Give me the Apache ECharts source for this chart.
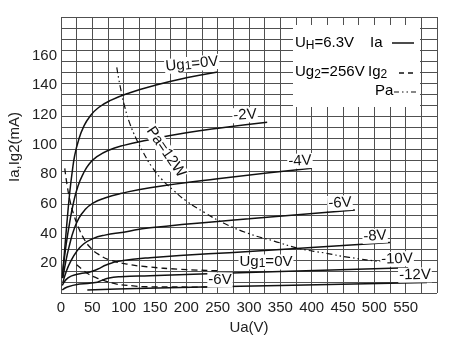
<!DOCTYPE html>
<html><head><meta charset="utf-8">
<script src="https://cdn.jsdelivr.net/npm/echarts@6/dist/echarts.min.js"></script>
<style>html,body{margin:0;padding:0;background:#fff}#c{width:450px;height:356px}</style>
</head><body><div id="c"></div>
<script>
const xTickLabels = [0,50,100,150,200,250,300,350,400,450,500,550];
const yTickLabels = [20,40,60,80,100,120,140,160];

const iaUg0   = [[2,10],[6,30],[10,50],[14,68],[18,82],[22,93],[28,103],[36,112],[46,119],[60,125],[80,130],[110,135],[150,140],[200,145],[250,149]];
const iaUgM2  = [[3,15],[8,32],[14,48],[20,61],[27,72],[35,80],[45,87],[58,92],[75,96],[100,99.5],[137,103],[200,108],[260,111.5],[329,115]];
const iaUgM4  = [[3,10],[8,22],[14,33],[20,42],[28,50],[38,56],[51,60.5],[70,64],[95,67],[142,71],[250,77],[400,84]];
const iaUgM6  = [[3,7],[8,14],[15,21],[25,28],[36,33],[50,36.5],[70,39],[100,41],[142,44],[300,50],[469,56]];
const iaUgM8  = [[2,5],[8,9],[17,11.5],[30,13],[45,14],[58,16],[73,19],[94,21.5],[142,23.8],[300,28],[525,34]];
const iaUgM10 = [[2,2],[10,4],[30,6],[55,7],[65,8.5],[75,10],[95,11],[142,11.7],[350,14.5],[554,17]];
const iaUgM12 = [[42,2],[137,3.2],[350,5],[584,7]];
const ig2Ug0  = [[6,84],[10,72],[15,61],[21,52],[28,44],[36,37],[46,31],[60,26],[80,22],[105,19.5],[137,17.7],[190,16],[249,15]];
const ig2UgM6 = [[25,19],[35,15.5],[45,12.5],[55,10.5],[68,8.5],[89,6],[115,4.8],[137,4.2],[233,4]];
const paCurve = [[89,152],[95,138],[102,125],[110,114],[120,104],[131,95],[145,85],[160,77],[180,69],[200,62],[230,54],[260,47],[300,40],[340,35],[380,30],[420,27],[460,24],[514,21],[540,20]];

const FONT = 'Liberation Sans, Arial, Helvetica, sans-serif';
const INK = '#111';
const GRIDC = '#505050';

function lineSeries(name, data, type, width) {
  return {
    name: name, type: 'line', data: data, showSymbol: false, symbol: 'none',
    smooth: 0.5, z: 3,
    lineStyle: { color: INK, width: width || 1.5, type: type || 'solid' },
    animation: false
  };
}

const rich = {
  n: { fontSize: 15, lineHeight: 18, fontFamily: FONT, color: INK },
  s: { fontSize: 12, lineHeight: 12, verticalAlign: 'bottom', fontFamily: FONT, color: INK }
};
const richL = {
  n: { fontSize: 15, lineHeight: 15, fontFamily: FONT, color: INK },
  s: { fontSize: 12, lineHeight: 11, verticalAlign: 'bottom', fontFamily: FONT, color: INK }
};

function label(text, x, y, rot) {
  return {
    type: 'text', x: x, y: y, rotation: rot || 0, z: 100,
    style: { text: text, rich: richL, align: 'center', verticalAlign: 'middle',
             backgroundColor: '#fff', padding: [0, 1, 0, 1], font: '15px ' + FONT, fill: INK }
  };
}

const chart = echarts.init(document.getElementById('c'), null, { renderer: 'canvas' });
chart.setOption({
  backgroundColor: '#fff',
  animation: false,
  grid: { left: 61, right: 13, top: 17, bottom: 63 },
  xAxis: {
    type: 'value', min: 0, max: 600, interval: 25,
    axisLine: { show: false }, axisTick: { show: false },
    splitLine: { show: true, lineStyle: { color: GRIDC, width: 1 } },
    axisLabel: { formatter: v => xTickLabels.indexOf(v) >= 0 ? String(v) : '', fontSize: 15, color: '#222', fontFamily: FONT, margin: 7 },
    name: 'Ua(V)', nameLocation: 'middle', nameGap: 27,
    nameTextStyle: { fontSize: 15, color: '#222', fontFamily: FONT }
  },
  yAxis: [
    {
      type: 'value', min: 0, max: 186, interval: 20,
      axisLine: { show: false }, axisTick: { show: false }, splitLine: { show: false },
      axisLabel: { formatter: v => yTickLabels.indexOf(v) >= 0 ? String(v) : '', fontSize: 15, color: '#222', fontFamily: FONT, margin: 4 }
    },
    {
      type: 'value', min: 0, max: 25, interval: 1, position: 'right',
      axisLine: { show: false }, axisTick: { show: false }, axisLabel: { show: false },
      splitLine: { show: true, lineStyle: { color: GRIDC, width: 1 } }
    }
  ],
  series: [
    lineSeries('Ia 0V', iaUg0),
    lineSeries('Ia -2V', iaUgM2),
    lineSeries('Ia -4V', iaUgM4),
    lineSeries('Ia -6V', iaUgM6),
    lineSeries('Ia -8V', iaUgM8),
    lineSeries('Ia -10V', iaUgM10),
    lineSeries('Ia -12V', iaUgM12),
    lineSeries('Ig2 0V', ig2Ug0, [6, 4], 1.3),
    lineSeries('Ig2 -6V', ig2UgM6, [6, 4], 1.3),
    lineSeries('Pa 12W', paCurve, [6, 3, 1.5, 3, 1.5, 3], 1.2)
  ],
  graphic: [
    { type: 'rect', z: 90, shape: { x: 293, y: 25, width: 127, height: 82 }, style: { fill: '#fff' } },
    { type: 'text', z: 100, x: 295, y: 43, style: { text: '{n|U}{s|H}{n|=6.3V}', rich: rich, align: 'left', verticalAlign: 'middle' } },
    { type: 'text', z: 100, x: 370, y: 43, style: { text: '{n|Ia}', rich: rich, align: 'left', verticalAlign: 'middle' } },
    { type: 'line', z: 100, shape: { x1: 392, y1: 43, x2: 414, y2: 43 }, style: { stroke: INK, lineWidth: 1.5 } },
    { type: 'text', z: 100, x: 295, y: 72, style: { text: '{n|Ug}{s|2}{n|=256V}', rich: rich, align: 'left', verticalAlign: 'middle' } },
    { type: 'text', z: 100, x: 368, y: 72, style: { text: '{n|Ig}{s|2}', rich: rich, align: 'left', verticalAlign: 'middle' } },
    { type: 'line', z: 100, shape: { x1: 399, y1: 73, x2: 413, y2: 73 }, style: { stroke: INK, lineWidth: 1.3, lineDash: [5, 4] } },
    { type: 'text', z: 100, x: 375, y: 91, style: { text: '{n|Pa}', rich: rich, align: 'left', verticalAlign: 'middle' } },
    { type: 'line', z: 100, shape: { x1: 394, y1: 92, x2: 418, y2: 92 }, style: { stroke: INK, lineWidth: 1.2, lineDash: [5, 3, 1.5, 3, 1.5, 3] } },
    { type: 'text', z: 100, x: 15, y: 147, rotation: Math.PI / 2, style: { text: 'Ia,Ig2(mA)', font: '15px ' + FONT, fill: '#222', align: 'center', verticalAlign: 'middle' } },
    label('{n|Ug}{s|1}{n|=0V}', 192, 64, 0.1),
    label('{n|-2V}', 245, 115, 0.06),
    label('{n|-4V}', 300, 161, 0.04),
    label('{n|-6V}', 340, 203, 0.04),
    label('{n|-8V}', 375, 236, 0.05),
    label('{n|-10V}', 397, 259, 0.03),
    label('{n|-12V}', 415, 275, 0.02),
    label('{n|Ug}{s|1}{n|=0V}', 266, 262, 0),
    label('{n|-6V}', 220, 280, 0),
    label('{n|Pa=12W}', 166, 152, -0.97)
  ]
});
</script>
</body></html>
